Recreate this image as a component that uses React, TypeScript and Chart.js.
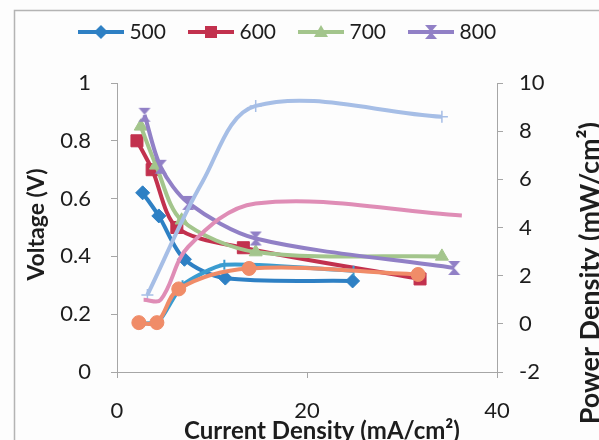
import React, { useEffect, useRef } from 'react';
import { Chart, registerables } from 'chart.js';

Chart.register(...registerables);

const FONT = 'Lato, "Open Sans", sans-serif';
const TEXT = '#1d1d1d';
const AXIS = '#a6a6a6';

// Operating temperatures shown in the legend
const seriesLabels = ['500', '600', '700', '800'];
const seriesColors = ['#2E80C4', '#C2314E', '#A3C58C', '#9180C6'];
const seriesMarkers = ['diamond', 'square', 'triangle', 'hourglass'];

// Polarisation curves: current density (mA/cm²) and cell voltage (V)
const current500 = [2.7, 4.4, 7.1, 11.4, 24.8];
const voltage500 = [0.62, 0.54, 0.39, 0.325, 0.315];
const current600 = [2.1, 3.7, 6.3, 13.3, 31.9];
const voltage600 = [0.8, 0.7, 0.5, 0.43, 0.322];
const current700 = [2.5, 4.1, 6.8, 14.6, 34.2];
const voltage700 = [0.85, 0.715, 0.525, 0.415, 0.4];
const current800 = [2.9, 4.6, 7.5, 14.6, 35.5];
const voltage800 = [0.89, 0.71, 0.585, 0.462, 0.36];

// Power density curves (mW/cm²) on the secondary axis
const powerCurrentA = [3.2, 9.0, 14.6, 34.2];
const powerA = [1.2, 5.9, 9.05, 8.6];
const powerMarkerA = [6, 0, 6, 6];
const powerCurrentB = [2.8, 4.6, 7.5, 14.6, 36.3];
const powerB = [1.0, 1.0, 3.2, 5.0, 4.5];
const powerCurrentC = [2.3, 4.2, 6.5, 13.9, 31.7];
const powerC = [0.05, 0.05, 1.45, 2.3, 2.05];
const powerCurrentD = [2.6, 4.4, 6.9, 11.3, 24.9];
const powerD = [0.0, 0.1, 1.6, 2.45, 2.2];
const powerColors = ['#A6BEE6', '#DF8DB6', '#F08C68', '#3A9CD0'];

// Axis ranges and tick spacing
const currentMin = 0;
const currentMax = 40;
const currentStep = 20;
const voltageMin = 0;
const voltageMax = 1;
const voltageStep = 0.2;
const powerMin = -2;
const powerMax = 10;
const powerStep = 2;

const toPoints = (xs: number[], ys: number[]) => xs.map((x, i) => ({ x, y: ys[i] }));
const plainNumber = (v: any) => String(Number(Number(v).toFixed(2)));

function drawMarker(g: CanvasRenderingContext2D, kind: string, cx: number, cy: number) {
  g.beginPath();
  if (kind === 'diamond') {
    g.moveTo(cx, cy - 7);
    g.lineTo(cx + 7, cy);
    g.lineTo(cx, cy + 7);
    g.lineTo(cx - 7, cy);
  } else if (kind === 'square') {
    g.rect(cx - 6, cy - 6, 12, 12);
  } else if (kind === 'triangle') {
    g.moveTo(cx, cy - 7);
    g.lineTo(cx + 7, cy + 5);
    g.lineTo(cx - 7, cy + 5);
  } else {
    g.moveTo(cx - 6, cy - 7);
    g.lineTo(cx + 6, cy - 7);
    g.lineTo(cx - 6, cy + 7);
    g.lineTo(cx + 6, cy + 7);
  }
  g.closePath();
  g.fill();
}

function hourglassPoint(color: string) {
  const c = document.createElement('canvas');
  c.width = 14;
  c.height = 16;
  const g = c.getContext('2d')!;
  g.fillStyle = color;
  drawMarker(g, 'hourglass', 7, 8);
  return c;
}

function legendIcon(color: string, kind: string) {
  const c = document.createElement('canvas');
  c.width = 46;
  c.height = 18;
  const g = c.getContext('2d')!;
  g.strokeStyle = color;
  g.fillStyle = color;
  g.lineWidth = 4;
  g.beginPath();
  g.moveTo(0, 9);
  g.lineTo(46, 9);
  g.stroke();
  drawMarker(g, kind, 23, 9);
  return c;
}

const backgroundPlugin = {
  id: 'paper',
  beforeDraw(chart: any) {
    const { ctx, width, height } = chart;
    ctx.save();
    ctx.fillStyle = '#fdfdfd';
    ctx.fillRect(0, 0, width, height);
    ctx.strokeStyle = '#b4b4b4';
    ctx.lineWidth = 1.5;
    ctx.strokeRect(14.5, 10.5, width + 20, height + 20);
    ctx.restore();
  },
};

const titlesPlugin = {
  id: 'axisTitles',
  afterDraw(chart: any) {
    const { ctx, chartArea } = chart;
    const midY = (chartArea.top + chartArea.bottom) / 2;
    ctx.save();
    ctx.fillStyle = TEXT;
    ctx.textBaseline = 'middle';

    ctx.save();
    ctx.font = `bold 23px ${FONT}`;
    ctx.translate(chartArea.left - 80, midY - 3);
    ctx.rotate(-Math.PI / 2);
    ctx.textAlign = 'center';
    ctx.fillText('Voltage (V)', 0, 0);
    ctx.restore();

    ctx.font = `bold 24px ${FONT}`;
    ctx.textAlign = 'center';
    ctx.fillText('Current Density (mA/cm²)', (chartArea.left + chartArea.right) / 2 + 15, chartArea.bottom + 59);

    ctx.save();
    ctx.font = `bold 27px ${FONT}`;
    ctx.translate(chartArea.right + 93, chartArea.top + 39);
    ctx.rotate(-Math.PI / 2);
    ctx.textAlign = 'right';
    ctx.fillText('Power Density (mW/cm²)', 0, 0);
    ctx.restore();

    ctx.restore();
  },
};

export default function App() {
  const ref = useRef<HTMLCanvasElement>(null);

  useEffect(() => {
    const canvas = ref.current;
    if (!canvas) return;
    Chart.defaults.font.family = FONT;

    const voltageData = [
      toPoints(current500, voltage500),
      toPoints(current600, voltage600),
      toPoints(current700, voltage700),
      toPoints(current800, voltage800),
    ];
    const pointStyles: any[] = ['rectRot', 'rect', 'triangle', hourglassPoint(seriesColors[3])];
    const pointRadii = [7, 8.5, 7.5, 7];

    const voltageSets = seriesLabels.map((label, i) => ({
      label,
      data: voltageData[i],
      yAxisID: 'y',
      order: 7 - i,
      borderColor: seriesColors[i],
      backgroundColor: seriesColors[i],
      borderWidth: 4,
      tension: 0.3,
      pointStyle: pointStyles[i],
      pointRadius: pointRadii[i],
      pointBackgroundColor: seriesColors[i],
      pointBorderColor: seriesColors[i],
      pointBorderWidth: 1,
    }));

    const powerSets = [
      {
        label: 'P-a',
        data: toPoints(powerCurrentD, powerD),
        order: 3,
        color: powerColors[3],
        pointStyle: 'cross',
        pointRadius: 5 as any,
        pointBorderWidth: 2,
        tension: 0.2,
      },
      {
        label: 'P-b',
        data: toPoints(powerCurrentA, powerA),
        order: 2,
        color: powerColors[0],
        pointStyle: 'cross',
        pointRadius: powerMarkerA as any,
        pointBorderWidth: 1.5,
        tension: 0.35,
      },
      {
        label: 'P-c',
        data: toPoints(powerCurrentB, powerB),
        order: 1,
        color: powerColors[1],
        pointStyle: 'circle',
        pointRadius: 0 as any,
        pointBorderWidth: 0,
        tension: 0.35,
      },
      {
        label: 'P-d',
        data: toPoints(powerCurrentC, powerC),
        order: 0,
        color: powerColors[2],
        pointStyle: 'circle',
        pointRadius: 7 as any,
        pointBorderWidth: 1,
        tension: 0.35,
      },
    ].map((s) => ({
      label: s.label,
      data: s.data,
      yAxisID: 'y1',
      order: s.order,
      borderColor: s.color,
      backgroundColor: s.color,
      borderWidth: 4,
      tension: s.tension,
      pointStyle: s.pointStyle,
      pointRadius: s.pointRadius,
      pointBackgroundColor: s.color,
      pointBorderColor: s.color,
      pointBorderWidth: s.pointBorderWidth,
    }));

    const icons = seriesLabels.map((_, i) => legendIcon(seriesColors[i], seriesMarkers[i]));

    const axisGrid = {
      display: true,
      drawOnChartArea: false,
      drawTicks: true,
      tickLength: 6,
      color: AXIS,
      lineWidth: 1,
    };
    const axisBorder = { display: true, color: AXIS, width: 1 };

    const chart = new Chart(canvas, {
      type: 'line',
      data: { datasets: [...voltageSets, ...powerSets] as any },
      plugins: [backgroundPlugin, titlesPlugin],
      options: {
        responsive: false,
        maintainAspectRatio: false,
        animation: false,
        devicePixelRatio: 1,
        layout: { padding: { top: -5.5, left: 0, right: 20, bottom: 0 } },
        plugins: {
          tooltip: { enabled: false },
          title: {
            display: true,
            text: ' ',
            position: 'top',
            weight: 500,
            font: { size: 10, lineHeight: 1 },
            padding: { top: 20.5, bottom: 0 },
          },
          legend: {
            position: 'top',
            align: 'center',
            labels: {
              usePointStyle: true,
              pointStyleWidth: 36,
              padding: 27,
              color: TEXT,
              font: { family: FONT, size: 21 },
              generateLabels: () =>
                seriesLabels.map((text, i) => ({
                  text,
                  pointStyle: icons[i] as any,
                  fillStyle: seriesColors[i],
                  strokeStyle: seriesColors[i],
                  lineWidth: 0,
                  hidden: false,
                  datasetIndex: i,
                  fontColor: TEXT,
                })),
            },
          },
        },
        scales: {
          x: {
            type: 'linear',
            min: currentMin,
            max: currentMax,
            grid: axisGrid,
            border: axisBorder,
            ticks: { stepSize: currentStep, color: TEXT, font: { size: 22 }, padding: 20, maxRotation: 0, callback: plainNumber },
            afterFit: (s: any) => {
              s.height = 68;
            },
          },
          y: {
            type: 'linear',
            position: 'left',
            min: voltageMin,
            max: voltageMax,
            grid: axisGrid,
            border: axisBorder,
            ticks: { stepSize: voltageStep, color: TEXT, font: { size: 22 }, padding: 20, callback: plainNumber },
            afterFit: (s: any) => {
              s.width = 117;
            },
          },
          y1: {
            type: 'linear',
            position: 'right',
            min: powerMin,
            max: powerMax,
            grid: axisGrid,
            border: axisBorder,
            ticks: { stepSize: powerStep, color: TEXT, font: { size: 22 }, padding: 16, callback: plainNumber },
            afterFit: (s: any) => {
              s.width = 82;
            },
          },
        },
      } as any,
    });

    return () => chart.destroy();
  }, []);

  return (
    <div style={{ position: 'absolute', left: 0, top: 0, width: 599, height: 440 }}>
      <canvas ref={ref} width={599} height={440} style={{ display: 'block' }} />
    </div>
  );
}
